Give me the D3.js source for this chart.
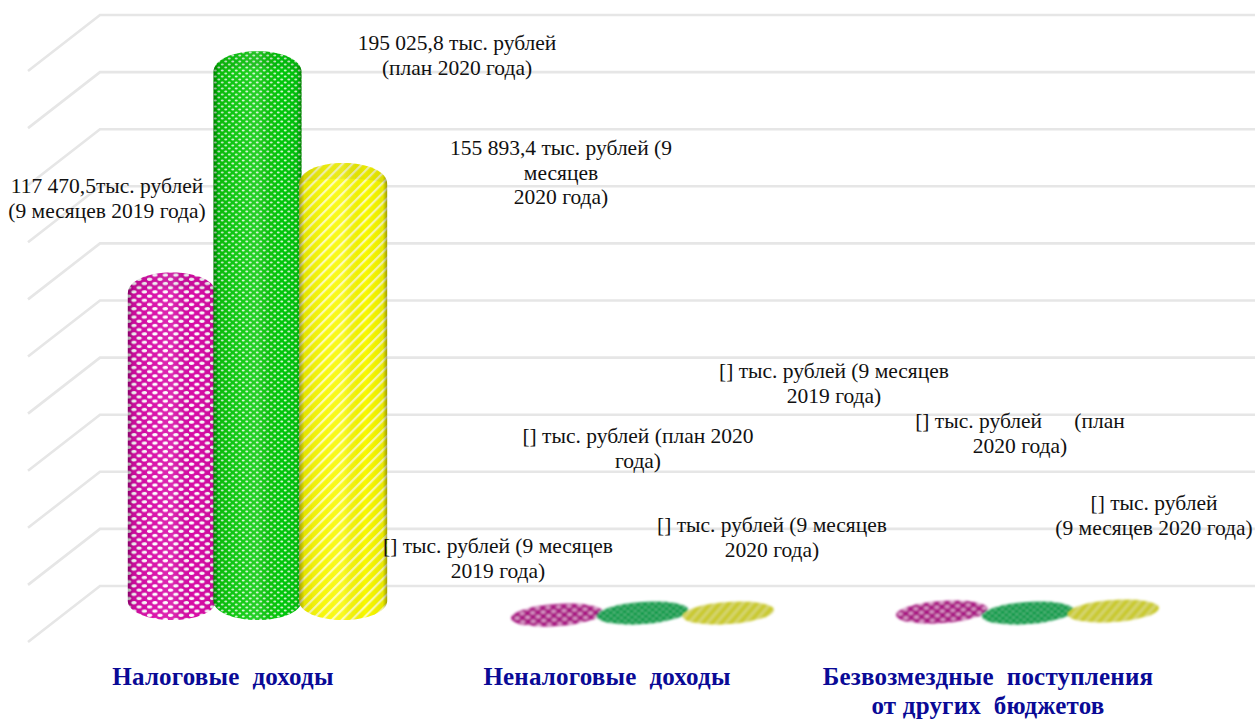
<!DOCTYPE html>
<html>
<head>
<meta charset="utf-8">
<script src="https://cdnjs.cloudflare.com/ajax/libs/d3/7.8.5/d3.min.js"></script>
<style>
html, body { margin:0; padding:0; background:#fff; }
svg { display:block; }
text { font-family:"Liberation Serif", serif; }
</style>
</head>
<body>
<div id="allContainer"></div>
<script>
// data
var categories = ["Налоговые  доходы", "Неналоговые  доходы", "Безвозмездные  поступления"];
var seriesNames = ["9m2019", "plan2020", "9m2020"];
var values2019 = [117470.5, 3500, 4550];
var valuesPlan = [195025.8, 4200, 4200];
var values2020 = [155893.4, 4200, 4900];
var gridTicks = [0, 20000, 40000, 60000, 80000, 100000, 120000, 140000, 160000, 180000, 200000];

var labelLines = [
    ["117 470,5тыс. рублей", "(9 месяцев 2019 года)"],
    ["195 025,8 тыс. рублей", "(план 2020 года)"],
    ["155 893,4 тыс. рублей (9", "месяцев", "2020 года)"],
    ["[] тыс. рублей (9 месяцев", "2019 года)"],
    ["[] тыс. рублей (план 2020", "года)"],
    ["[] тыс. рублей (9 месяцев", "2020 года)"],
    ["[] тыс. рублей (9 месяцев", "2019 года)"],
    ["[] тыс. рублей \u00a0\u00a0\u00a0\u00a0\u00a0(план", "2020 года)"],
    ["[] тыс. рублей", "(9 месяцев 2020 года)"]
];
var categoryLabels = [["Налоговые  доходы"], ["Неналоговые  доходы"], ["Безвозмездные  поступления", "от других  бюджетов"]];

var allSeries = [values2019, valuesPlan, values2020];

var wid = 1255, hei = 720;

// label placement, separate from the data
var labelPos = [[107,187],[457,44],[561,149],[498,547],[638,437],[772,526],[834,372],[1020,422],[1154,504]];

var svg = d3.select("#allContainer").append("svg")
    .attr("width", wid).attr("height", hei);
var defs = svg.append("defs");

defs.append("filter").attr("id", "soft")
    .append("feGaussianBlur").attr("stdDeviation", 0.7);
defs.append("filter").attr("id", "softer").attr("x", "-10%").attr("width", "120%")
    .append("feGaussianBlur").attr("stdDeviation", 0.8);

// ---------- textures
function dotPattern(id, bg, w, h, rx, ry, op) {
    var p = defs.append("pattern").attr("id", id)
        .attr("patternUnits", "userSpaceOnUse")
        .attr("width", w).attr("height", h);
    p.append("rect").attr("width", w).attr("height", h).attr("fill", bg);
    [[w / 4, h / 4], [3 * w / 4, 3 * h / 4]].forEach(function (c) {
        p.append("ellipse").attr("cx", c[0]).attr("cy", c[1])
            .attr("rx", rx).attr("ry", ry).attr("fill", "#fff").attr("fill-opacity", op);
    });
}
dotPattern("tex0", "#d808a6", 10.5, 8.4, 2.7, 1.7, 1);
dotPattern("tex1", "#06c808", 7, 6, 1.5, 1.05, 0.8);

var stripes = defs.append("pattern").attr("id", "tex2")
    .attr("patternUnits", "userSpaceOnUse")
    .attr("width", 7).attr("height", 7)
    .attr("patternTransform", "rotate(-45)");
stripes.append("rect").attr("width", 7).attr("height", 7).attr("fill", "#f8f800");
stripes.append("rect").attr("width", 7).attr("height", 2.2).attr("fill", "#fdfdb0");

// darker versions for the flat discs
dotPattern("disc0", "#a81482", 10.5, 8.4, 2.6, 1.5, 0.7);
dotPattern("disc1", "#0c9a4a", 7, 6, 1.4, 1, 0.45);
var discStripes = defs.append("pattern").attr("id", "disc2")
    .attr("patternUnits", "userSpaceOnUse")
    .attr("width", 7).attr("height", 7)
    .attr("patternTransform", "rotate(-45)");
discStripes.append("rect").attr("width", 7).attr("height", 7).attr("fill", "#c9c92e");
discStripes.append("rect").attr("width", 7).attr("height", 2.4).attr("fill", "#d8d87c");

// cylinder side shading
var shade = defs.append("linearGradient").attr("id", "shade");
[[0, "#000", 0.36], [0.06, "#000", 0.08], [0.3, "#fff", 0.06], [0.5, "#fff", 0.14], [0.75, "#000", 0], [0.95, "#000", 0.06], [1, "#000", 0.36]]
    .forEach(function (s) {
        shade.append("stop").attr("offset", s[0]).attr("stop-color", s[1]).attr("stop-opacity", s[2]);
    });

// ---------- scales
var gridScale = d3.scaleLinear().domain([0, 200000]).range([586, 15]);
var yScale = d3.scaleLinear().domain([0, 200000]).range([625, 54]);
var xScale = d3.scaleBand().domain(categories).range([65, 1220]);
var xInner = d3.scaleBand().domain(seriesNames).range([0, 257]).padding(0);

// ---------- back wall grid
var grid = svg.append("g").attr("class", "grid").attr("filter", "url(#soft)");
grid.selectAll("path")
    .data(gridTicks)
    .enter().append("path")
    .attr("fill", "none")
    .attr("stroke", "#e6e6e6")
    .attr("stroke-width", 2.6)
    .attr("d", function (d) {
        var y = gridScale(d);
        return "M28," + (y + 56) + "L100," + y + "H" + wid;
    });

// ---------- marks
var marks = [];
categories.forEach(function (c, i) {
    seriesNames.forEach(function (s, j) {
        marks.push({ cat: c, series: s, j: j, value: allSeries[j][i] });
    });
});

function cx(d) { return xScale(d.cat) + xInner(d.series) + xInner.bandwidth() / 2 + 64; }

var rx = 44, ry = 17, floorY = 603;

// side of the cylinder with rounded shoulders
function cylPath(d) {
    var c = cx(d), x0 = c - rx, x1 = c + rx, top = yScale(d.value);
    return "M" + x0 + "," + (top + 4) +
        "C" + x0 + "," + (top - 9) + " " + (c - 24) + "," + (top - ry) + " " + c + "," + (top - ry) +
        "S" + x1 + "," + (top - 9) + " " + x1 + "," + (top + 4) +
        "V" + (floorY - 2) +
        "C" + x1 + "," + (floorY + 9) + " " + (c + 24) + "," + (floorY + ry) + " " + c + "," + (floorY + ry) +
        "S" + x0 + "," + (floorY + 9) + " " + x0 + "," + (floorY - 2) + "Z";
}

function capPath(d) {
    var c = cx(d), x0 = c - rx, x1 = c + rx, top = yScale(d.value);
    return "M" + x0 + "," + (top + 4) +
        "C" + x0 + "," + (top - 9) + " " + (c - 24) + "," + (top - ry) + " " + c + "," + (top - ry) +
        "S" + x1 + "," + (top - 9) + " " + x1 + "," + (top + 4) +
        "C" + (x1 - 14) + "," + (top - 3) + " " + (x0 + 14) + "," + (top - 3) + " " + x0 + "," + (top + 4) + "Z";
}

var tall = marks.filter(function (d) { return d.value > 10000; });
var flat = marks.filter(function (d) { return d.value <= 10000; });

var cyl = svg.append("g").attr("class", "cylinders");
tall.forEach(function (d) {
    var g = cyl.append("g").attr("filter", "url(#soft)");
    g.append("path").attr("d", cylPath(d)).attr("fill", "url(#tex" + d.j + ")");
    g.append("path").attr("d", cylPath(d)).attr("fill", "url(#shade)");
    g.append("path").attr("d", capPath(d)).attr("fill", "#000").attr("fill-opacity", 0.06);
});

// the small values collapse to flat tilted discs
svg.append("g").attr("class", "discs")
    .selectAll("ellipse")
    .data(flat)
    .enter().append("ellipse")
    .attr("cx", function (d) { return cx(d); })
    .attr("cy", function (d) { return yScale(d.value); })
    .attr("rx", 46).attr("ry", 11)
    .attr("transform", function (d) { return "rotate(-4," + cx(d) + "," + yScale(d.value) + ")"; })
    .attr("fill", function (d) { return "url(#disc" + d.j + ")"; })
    .attr("filter", "url(#softer)");

// ---------- value labels
var labels = svg.append("g").attr("class", "labels");
labels.selectAll("text")
    .data(labelLines)
    .enter().append("text")
    .attr("text-anchor", "middle")
    .attr("font-size", 21.5)
    .attr("fill", "#111")
    .each(function (lines, i) {
        var el = d3.select(this);
        lines.forEach(function (t, k) {
            el.append("tspan")
                .attr("x", labelPos[i][0])
                .attr("y", labelPos[i][1] + k * 24.5 + 6)
                .text(t);
        });
    });

// ---------- category labels
var catCentres = [223, 607, 988];
svg.append("g").attr("class", "x axis")
    .selectAll("text")
    .data(categoryLabels)
    .enter().append("text")
    .attr("text-anchor", "middle")
    .attr("font-size", 25)
    .attr("letter-spacing", 0.2)
    .attr("font-weight", "bold")
    .attr("fill", "#0a0a96")
    .attr("xml:space", "preserve")
    .style("white-space", "pre")
    .each(function (lines, i) {
        var el = d3.select(this);
        lines.forEach(function (t, k) {
            el.append("tspan")
                .attr("x", catCentres[i])
                .attr("y", 685 + k * 29)
                .text(t);
        });
    });
</script>
</body>
</html>
